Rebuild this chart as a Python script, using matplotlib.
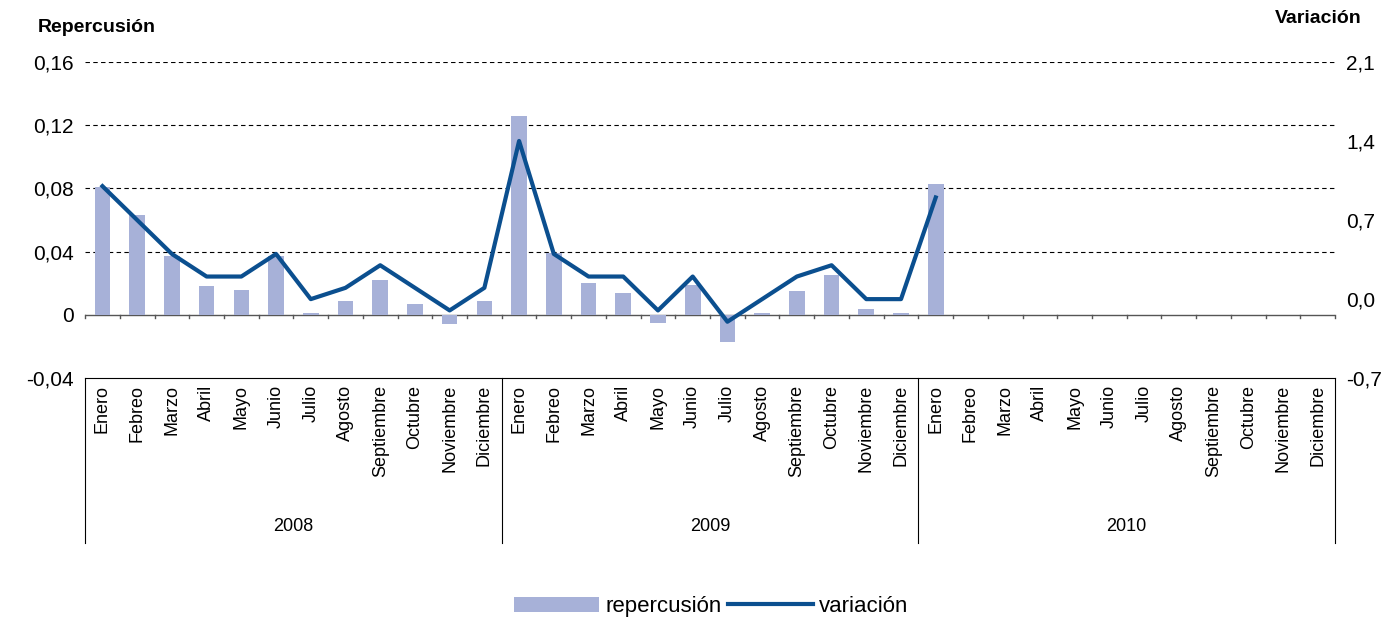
import matplotlib.pyplot as plt
import numpy as np

plt.rcParams['font.family'] = ['Liberation Sans', 'DejaVu Sans']

meses = ["Enero", "Febreo", "Marzo", "Abril", "Mayo", "Junio", "Julio", "Agosto",
         "Septiembre", "Octubre", "Noviembre", "Diciembre"]
anios = ["2008", "2009", "2010"]
repercusion = [0.081, 0.063, 0.037, 0.018, 0.016, 0.037, 0.001, 0.009, 0.022, 0.007, -0.006, 0.009,
               0.126, 0.039, 0.020, 0.014, -0.005, 0.019, -0.017, 0.001, 0.015, 0.025, 0.004, 0.001,
               0.083]
variacion = [1.0, 0.7, 0.4, 0.2, 0.2, 0.4, 0.0, 0.1, 0.3, 0.1, -0.1, 0.1,
             1.4, 0.4, 0.2, 0.2, -0.1, 0.2, -0.2, 0.0, 0.2, 0.3, 0.0, 0.0,
             0.9]

n = 36
fig = plt.figure(figsize=(13.95, 6.19), dpi=100)
ax = fig.add_axes([0.061, 0.389, 0.896, 0.511])
ax2 = ax.twinx()

x = np.arange(len(repercusion))
ax.bar(x, repercusion, width=0.45, color="#a7b1d8", label="repercusión", zorder=2)
ax2.plot(np.arange(len(variacion)), variacion, color="#0b4f8f", lw=3, label="variación", zorder=3)

ax.set_xlim(-0.5, n - 0.5)
ax.set_ylim(-0.04, 0.16)
ax.set_yticks([-0.04, 0, 0.04, 0.08, 0.12, 0.16])
ax.set_yticklabels(["-0,04", "0", "0,04", "0,08", "0,12", "0,16"], fontsize=15)
ax2.set_ylim(-0.7, 2.1)
ax2.set_yticks([-0.7, 0.0, 0.7, 1.4, 2.1])
ax2.set_yticklabels(["-0,7", "0,0", "0,7", "1,4", "2,1"], fontsize=15)
for y in [0.04, 0.08, 0.12, 0.16]:
    ax.axhline(y, color="black", ls=(0, (4, 3)), lw=0.8, zorder=1)
ax.axhline(0, color="#555555", lw=1, zorder=1)
for a in (ax, ax2):
    for s in a.spines.values():
        s.set_visible(False)
    a.tick_params(length=0, pad=8)
ax.set_xticks([])

# zero-line ticks
for i in range(n + 1):
    xi = i - 0.5
    ax.plot([xi, xi], [0, -0.002], color="#555555", lw=1, clip_on=False)

# category axis below
trans = ax.get_xaxis_transform()
ax.plot([-0.5, n - 0.5], [0, 0], transform=trans, color="black", lw=0.8, clip_on=False)
for i in range(0, n + 1, 12):
    xi = i - 0.5
    ax.plot([xi, xi], [0, -0.52], transform=trans, color="black", lw=0.8, clip_on=False)
for i in range(n):
    ax.text(i, -0.02, meses[i % 12], rotation=90, ha="center", va="top",
            fontsize=13, transform=trans)
for k, a in enumerate(anios):
    ax.text(12 * k + 5.5, -0.47, a, ha="center", va="center", fontsize=13, transform=trans)

fig.text(0.027, 0.955, "Repercusión", fontsize=14, fontweight="bold", va="center")
fig.text(0.976, 0.97, "Variación", fontsize=14, fontweight="bold", va="center", ha="right")

h1, l1 = ax.get_legend_handles_labels()
h2, l2 = ax2.get_legend_handles_labels()
fig.legend(h1 + h2, l1 + l2, loc="center", bbox_to_anchor=(0.51, 0.02), ncol=2,
           frameon=False, fontsize=16, handlelength=3.8, columnspacing=0.3, handletextpad=0.3)

fig.savefig("out.png", dpi=100)
